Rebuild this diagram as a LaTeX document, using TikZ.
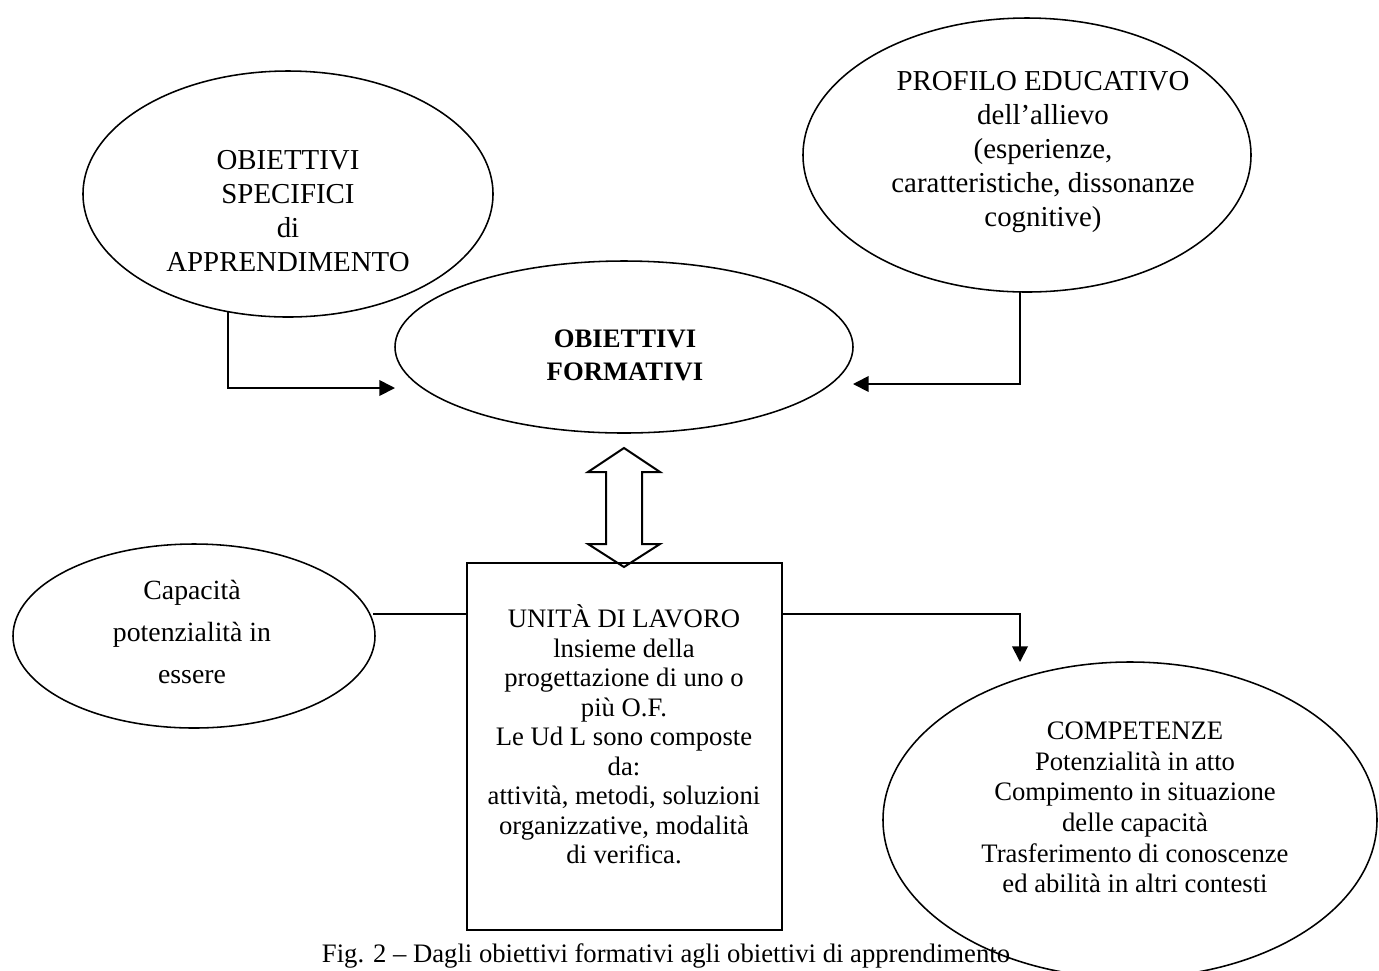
\documentclass[tikz,border=0pt]{standalone}
\usepackage{fontspec}
\setmainfont{Liberation Serif}
\usetikzlibrary{shapes.geometric,arrows.meta}
\begin{document}
\begin{tikzpicture}[x=0.45pt,y=-0.45pt,
  oval/.style={draw, ellipse, inner sep=0pt, line width=0.7pt},
  frame/.style={draw, rectangle, inner sep=0pt, line width=0.7pt},
  lbl/.style={align=center, inner sep=0pt},
  link/.style={line width=0.8pt},
  tip/.style={-{Triangle[length=7pt,width=7pt]}}]
\useasboundingbox (0,0) rectangle (1379,970);
% shapes
\node[oval, minimum width=184.5pt, minimum height=110.7pt] (e1) at (288,194) {};
\node[oval, minimum width=201.6pt, minimum height=123.3pt] (e2) at (1027,155) {};
\node[oval, minimum width=206.1pt, minimum height=77.4pt] (e3) at (624,347) {};
\node[oval, minimum width=162.9pt, minimum height=82.8pt] (e4) at (194,636) {};
\node[oval, minimum width=222.3pt, minimum height=142.2pt] (e5) at (1130,820) {};
\node[frame, minimum width=141.75pt, minimum height=165.15pt] (box) at (624.5,746.5) {};
% texts
\node[lbl, font=\fontsize{13}{15.3}\selectfont] (t1) at (288,211.5)
  {OBIETTIVI\\SPECIFICI\\di\\APPRENDIMENTO};
\node[lbl, font=\fontsize{13}{15.4}\selectfont] (t2) at (1043,152)
  {PROFILO EDUCATIVO\\dell’allievo\\(esperienze,\\caratteristiche, dissonanze\\cognitive)};
\node[lbl, font=\fontsize{12}{14.85}\selectfont\bfseries] (t3) at (625,355.5)
  {OBIETTIVI\\FORMATIVI};
\node[lbl, font=\fontsize{12.5}{18.7}\selectfont] (t4) at (192,632)
  {Capacità\\potenzialità in\\essere};
\node[lbl, font=\fontsize{12}{13.3}\selectfont] (t5) at (624,734.5)
  {UNITÀ DI LAVORO\\lnsieme della\\progettazione di uno o\\più O.F.\\Le Ud L sono composte\\da:\\attività, metodi, soluzioni\\organizzative, modalità\\di verifica.};
\node[lbl, font=\fontsize{12}{13.8}\selectfont] (t6) at (1135,807.5)
  {COMPETENZE\\Potenzialità in atto\\Compimento in situazione\\delle capacità\\Trasferimento di conoscenze\\ed abilità in altri contesti};
\node[lbl, font=\fontsize{12}{14}\selectfont, anchor=base] (cap) at (666,962)
  {Fig. 2 – Dagli obiettivi formativi agli obiettivi di apprendimento};
% connectors
\coordinate (c1s) at (228,312);
\coordinate (c1e) at (395,388);
\draw[link,tip] (c1s) |- (c1e);
\coordinate (c2s) at (1020,292);
\coordinate (c2e) at (853,384);
\draw[link,tip] (c2s) |- (c2e);
\coordinate (c3) at (373,614);
\draw[link] (c3) -- (c3 -| box.west);
\coordinate (c4) at (1020,662);
\draw[link,tip] (c3 -| box.east) -| (c4);
% double arrow
\draw[line width=0.9pt, line join=miter] (624,448) -- (588,472) -- (606,472) -- (606,544) -- (588,544)
  -- (624,567) -- (660,544) -- (642,544) -- (642,472) -- (660,472) -- cycle;
\end{tikzpicture}
\end{document}
